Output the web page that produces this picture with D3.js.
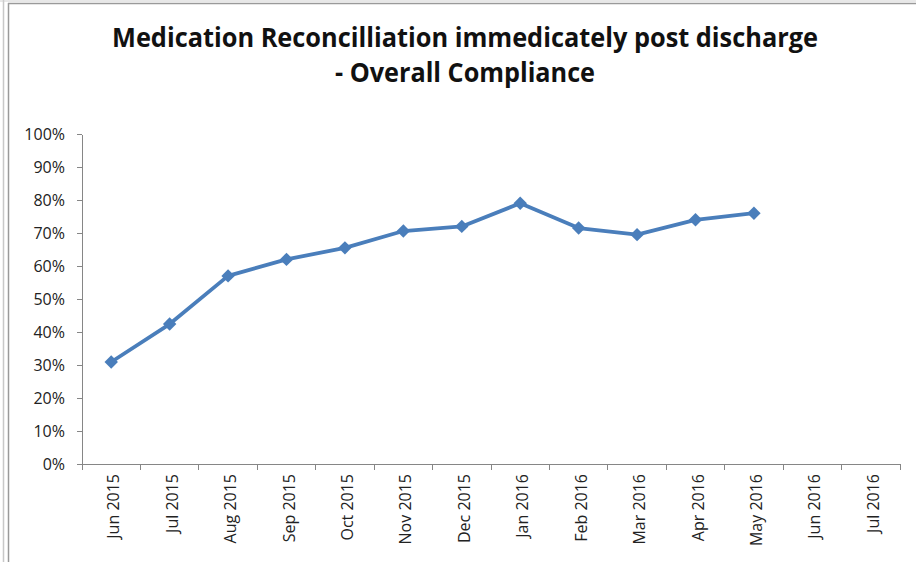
<!DOCTYPE html>
<head>
  <meta charset="utf-8">
  <title>Medication Reconcilliation</title>
  <style>
    body {margin: 0; background: #fff;}
    svg {display: block;}
    .axis path, .axis line {fill: none; stroke: #868686; stroke-width: 1; shape-rendering: crispEdges;}
    .axis text {font-family: "Open Sans", sans-serif; font-size: 16px; fill: #222;}
    .line {fill: none; stroke: #4a7ebb; stroke-width: 3.8; stroke-linejoin: round;}
  </style>
</head>
<body>
  <svg width="916" height="562"></svg>
  <script src="https://cdnjs.cloudflare.com/ajax/libs/d3/7.8.5/d3.min.js"></script>
  <script>
    // data
    var months = ["Jun 2015","Jul 2015","Aug 2015","Sep 2015","Oct 2015","Nov 2015","Dec 2015",
                  "Jan 2016","Feb 2016","Mar 2016","Apr 2016","May 2016","Jun 2016","Jul 2016"];
    var compliance = [0.309, 0.424, 0.570, 0.620, 0.655, 0.706, 0.720,
                      0.790, 0.715, 0.695, 0.740, 0.760, null, null];
    var yTicks = [0, 0.1, 0.2, 0.3, 0.4, 0.5, 0.6, 0.7, 0.8, 0.9, 1];
    var titleLines = ["Medication Reconcilliation immedicately post discharge", "- Overall Compliance"];

    var svg = d3.select("svg");

    // frame
    svg.append("line").attr("x1", 3.5).attr("x2", 3.5).attr("y1", 0).attr("y2", 562)
        .attr("stroke", "#c8c8c8").attr("stroke-width", 1.5);
    svg.append("line").attr("x1", 8.5).attr("x2", 8.5).attr("y1", 3).attr("y2", 562)
        .attr("stroke", "#9a9a9a").attr("stroke-width", 1.5);
    svg.append("line").attr("x1", 8).attr("x2", 916).attr("y1", 3.5).attr("y2", 3.5)
        .attr("stroke", "#9a9a9a").attr("stroke-width", 1.5);
    svg.append("line").attr("x1", 0).attr("x2", 916).attr("y1", 1).attr("y2", 1)
        .attr("stroke", "#d0d0d0").attr("stroke-width", 1);

    // title
    var title = svg.append("text")
        .attr("text-anchor", "middle")
        .attr("font-family", "'Open Sans', sans-serif")
        .attr("font-weight", "bold")
        .attr("font-size", 26)
        .attr("fill", "#111");
    title.append("tspan").attr("x", 465).attr("y", 47)
        .attr("textLength", 706).attr("lengthAdjust", "spacingAndGlyphs").text(titleLines[0]);
    title.append("tspan").attr("x", 465).attr("y", 82)
        .attr("textLength", 260).attr("lengthAdjust", "spacingAndGlyphs").text(titleLines[1]);

    // scales
    var x = d3.scaleBand().domain(months).range([82, 900]).padding(0);
    var y = d3.scaleLinear().domain([0, 1]).range([464, 134]);

    // y axis
    svg.append("g")
        .attr("class", "axis")
        .attr("transform", "translate(82,0)")
        .call(d3.axisLeft(y).tickValues(yTicks).tickFormat(d3.format(".0%")).tickSize(5).tickSizeOuter(0).tickPadding(12))
        .selectAll("text").attr("font-size", 16.5);

    // x axis with ticks on band boundaries
    var xg = svg.append("g")
        .attr("class", "axis")
        .attr("transform", "translate(0,464)");
    xg.append("path").attr("d", "M82,0.5H900");
    var bounds = months.map(function(m) { return x(m); }).concat([x.range()[1]]);
    xg.selectAll(".tk").data(bounds).enter().append("line")
        .attr("class", "tk")
        .attr("x1", function(d) { return d; }).attr("x2", function(d) { return d; })
        .attr("y1", 0).attr("y2", 6);
    xg.selectAll(".lbl").data(months).enter().append("text")
        .attr("class", "lbl")
        .attr("text-anchor", "end")
        .attr("font-size", 16.5)
        .attr("transform", function(d) {
          return "translate(" + (x(d) + x.bandwidth() / 2 + 8) + ",10) rotate(-90)";
        })
        .text(function(d) { return d; });

    // series
    var pts = months.map(function(m, i) { return {m: m, v: compliance[i]}; })
        .filter(function(d) { return d.v != null; });

    var line = d3.line()
        .x(function(d) { return x(d.m) + x.bandwidth() / 2; })
        .y(function(d) { return y(d.v); });

    svg.append("path").datum(pts).attr("class", "line").attr("d", line);

    svg.selectAll(".mk").data(pts).enter().append("path")
        .attr("class", "mk")
        .attr("d", d3.symbol().type(d3.symbolSquare).size(90))
        .attr("fill", "#4a7ebb")
        .attr("transform", function(d) {
          return "translate(" + (x(d.m) + x.bandwidth() / 2) + "," + y(d.v) + ") rotate(45)";
        });
  </script>
</body>
